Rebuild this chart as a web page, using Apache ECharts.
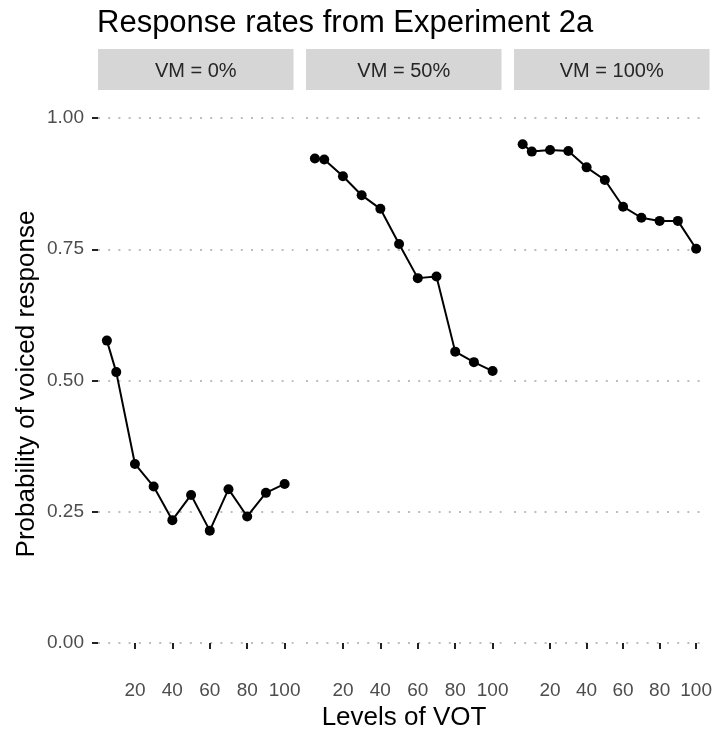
<!DOCTYPE html>
<html>
<head>
<meta charset="utf-8">
<script src="https://cdn.jsdelivr.net/npm/echarts@6/dist/echarts.min.js"></script>
<style>
html,body{margin:0;padding:0;background:#fff;}
#chart{width:715px;height:734px;}
</style>
</head>
<body>
<div id="chart"></div>
<script>
// ---- data ----
var titleText = 'Response rates from Experiment 2a';
var panelLabels = ['VM = 0%', 'VM = 50%', 'VM = 100%'];
var votLevels = [5, 10, 20, 30, 40, 50, 60, 70, 80, 90, 100];
var vm0 = [0.576, 0.516, 0.341, 0.298, 0.234, 0.282, 0.214, 0.293, 0.241, 0.286, 0.303];
var vm50 = [0.923, 0.921, 0.889, 0.853, 0.827, 0.760, 0.695, 0.698, 0.555, 0.535, 0.518];
var vm100 = [0.950, 0.936, 0.939, 0.937, 0.906, 0.882, 0.831, 0.810, 0.804, 0.804, 0.751];
var xTicks = [20, 40, 60, 80, 100];
var yAxisTitle = 'Probability of voiced response';
var xAxisTitle = 'Levels of VOT';

// ---- layout ----
var FONT = '"Liberation Sans", Arial, Helvetica, sans-serif';
var panelLeft = [98, 306, 514];
var panelW = 195.5;
var gridTop = 118, gridH = 525;
var seriesData = [vm0, vm50, vm100];

var grids = [], xAxes = [], yAxes = [], series = [], graphics = [];
for (var i = 0; i < 3; i++) {
  grids.push({left: panelLeft[i], top: gridTop, width: panelW, height: gridH, containLabel: false});
  xAxes.push({
    type: 'value', gridIndex: i, min: 0.25, max: 104.75,
    offset: 26,
    axisLine: {show: false},
    splitLine: {show: false},
    axisTick: {show: true, customValues: xTicks, length: 6, lineStyle: {color: '#222222', width: 2}},
    axisLabel: {show: true, customValues: xTicks, margin: 12, fontSize: 19, color: '#4D4D4D', fontFamily: FONT}
  });
  yAxes.push({
    type: 'value', gridIndex: i, min: 0, max: 1, interval: 0.25,
    axisLine: {show: false},
    axisTick: {show: i === 0, length: 6, lineStyle: {color: '#222222', width: 2}},
    axisLabel: {show: i === 0, margin: 14, fontSize: 19, color: '#4D4D4D', fontFamily: FONT,
      formatter: function (v) { return v.toFixed(2); }},
    splitLine: {show: true, lineStyle: {color: '#BDBDBD', width: 2, type: [2, 8.2]}}
  });
  var pts = votLevels.map(function (x, k) { return [x, seriesData[i][k]]; });
  series.push({
    type: 'line', xAxisIndex: i, yAxisIndex: i, data: pts,
    symbol: 'circle', symbolSize: 10, showSymbol: true, clip: false,
    lineStyle: {color: '#000', width: 2},
    itemStyle: {color: '#000'},
    emphasis: {disabled: true}, silent: true, animation: false
  });
  graphics.push({type: 'rect', shape: {x: panelLeft[i], y: 49, width: panelW, height: 41}, style: {fill: '#D6D6D6'}});
  graphics.push({type: 'text', x: panelLeft[i] + panelW / 2, y: 71,
    style: {text: panelLabels[i], fontSize: 20, fontFamily: FONT, fill: '#262626', align: 'center', verticalAlign: 'middle', textAlign: 'center', textVerticalAlign: 'middle'}});
}
graphics.push({type: 'text', x: 97, y: 23,
  style: {text: titleText, fontSize: 31, fontFamily: FONT, fill: '#000', align: 'left', verticalAlign: 'middle', textAlign: 'left', textVerticalAlign: 'middle'}});
graphics.push({type: 'text', x: 27, y: 384, rotation: Math.PI / 2,
  style: {text: yAxisTitle, fontSize: 26, fontFamily: FONT, fill: '#000', align: 'center', verticalAlign: 'middle', textAlign: 'center', textVerticalAlign: 'middle'}});
graphics.push({type: 'text', x: 404, y: 718,
  style: {text: xAxisTitle, fontSize: 26, fontFamily: FONT, fill: '#000', align: 'center', verticalAlign: 'middle', textAlign: 'center', textVerticalAlign: 'middle'}});

var chart = echarts.init(document.getElementById('chart'), null, {renderer: 'canvas'});
chart.setOption({
  animation: false,
  backgroundColor: '#fff',
  grid: grids, xAxis: xAxes, yAxis: yAxes, series: series,
  graphic: graphics
});
</script>
</body>
</html>
